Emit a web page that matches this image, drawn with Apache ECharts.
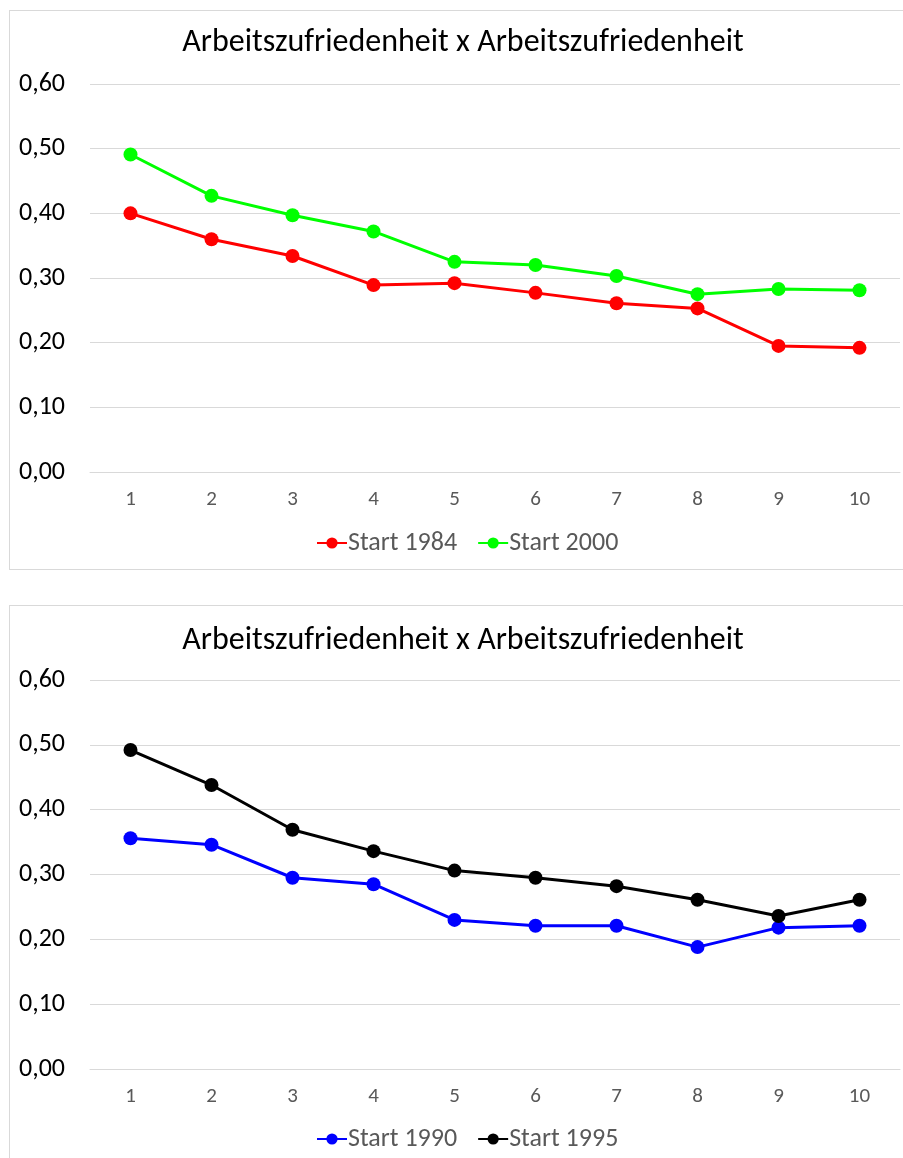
<!DOCTYPE html>
<html><head><meta charset="utf-8">
<script src="https://cdn.jsdelivr.net/npm/echarts@6/dist/echarts.min.js"></script>
<style>
html,body{margin:0;padding:0;background:#fff;}
#wrap{position:relative;width:903px;height:1158px;overflow:hidden;}
.box{position:absolute;border:1px solid #d9d9d9;background:#fff;}
#chart{position:absolute;left:0;top:0;width:903px;height:1158px;}
</style></head>
<body><div id="wrap">
<div class="box" style="left:9px;top:10px;width:910px;height:558px;"></div>
<div class="box" style="left:9px;top:605px;width:910px;height:570px;"></div>
<div id="chart"></div>
</div>
<script>
const categories = ['1','2','3','4','5','6','7','8','9','10'];
const titleText = 'Arbeitszufriedenheit x Arbeitszufriedenheit';
const start1984 = [0.400, 0.360, 0.334, 0.289, 0.292, 0.277, 0.261, 0.253, 0.195, 0.192];
const start2000 = [0.491, 0.427, 0.397, 0.372, 0.325, 0.320, 0.303, 0.275, 0.283, 0.281];
const start1990 = [0.356, 0.346, 0.295, 0.285, 0.230, 0.221, 0.221, 0.188, 0.218, 0.221];
const start1995 = [0.492, 0.438, 0.369, 0.336, 0.306, 0.295, 0.282, 0.261, 0.236, 0.261];

const FONT = 'Carlito, Lato, "Open Sans", sans-serif';
const chart = echarts.init(document.getElementById('chart'), null, {renderer:'canvas'});
function yAxis(gi){
  return {type:'value', gridIndex:gi, min:0, max:0.6, interval:0.1,
    axisLine:{show:false}, axisTick:{show:false},
    splitLine:{lineStyle:{color:'#d9d9d9', width:1}},
    axisLabel:{fontFamily:FONT, fontSize:26, color:'#000', margin:25,
      formatter:v=>v.toFixed(2).replace('.',',')}};
}
function xAxis(gi){
  return {type:'category', gridIndex:gi, data:categories, boundaryGap:true,
    axisLine:{show:true, lineStyle:{color:'#d9d9d9', width:1}}, axisTick:{show:false},
    axisLabel:{fontFamily:FONT, fontSize:21, color:'#595959', margin:17}};
}
function ser(name, data, color, gi){
  return {name, type:'line', data, xAxisIndex:gi, yAxisIndex:gi,
    symbol:'circle', symbolSize:14, showSymbol:true,
    lineStyle:{color, width:3}, itemStyle:{color},
    animation:false};
}
chart.setOption({
  animation:false,
  title:[
    {text:titleText, left:458, top:22, textAlign:'center',
     textStyle:{fontFamily:FONT, fontSize:32, fontWeight:'normal', color:'#000'}},
    {text:titleText, left:458, top:620, textAlign:'center',
     textStyle:{fontFamily:FONT, fontSize:32, fontWeight:'normal', color:'#000'}}
  ],
  legend:[
    {data:['Start 1984','Start 2000'], left:311, top:525, itemWidth:30, itemHeight:14, itemGap:20,
     textStyle:{fontFamily:FONT, fontSize:26, color:'#595959', padding:[0,0,0,-4]}},
    {data:['Start 1990','Start 1995'], left:311, top:1121, itemWidth:30, itemHeight:14, itemGap:20,
     textStyle:{fontFamily:FONT, fontSize:26, color:'#595959', padding:[0,0,0,-4]}}
  ],
  grid:[
    {left:90, right:3, top:84, bottom:1158-472},
    {left:90, right:3, top:680, bottom:1158-1069}
  ],
  xAxis:[xAxis(0), xAxis(1)],
  yAxis:[yAxis(0), yAxis(1)],
  series:[
    ser('Start 1984', start1984, '#ff0000', 0),
    ser('Start 2000', start2000, '#00ff00', 0),
    ser('Start 1990', start1990, '#0000ff', 1),
    ser('Start 1995', start1995, '#000000', 1)
  ]
});
</script></body></html>
